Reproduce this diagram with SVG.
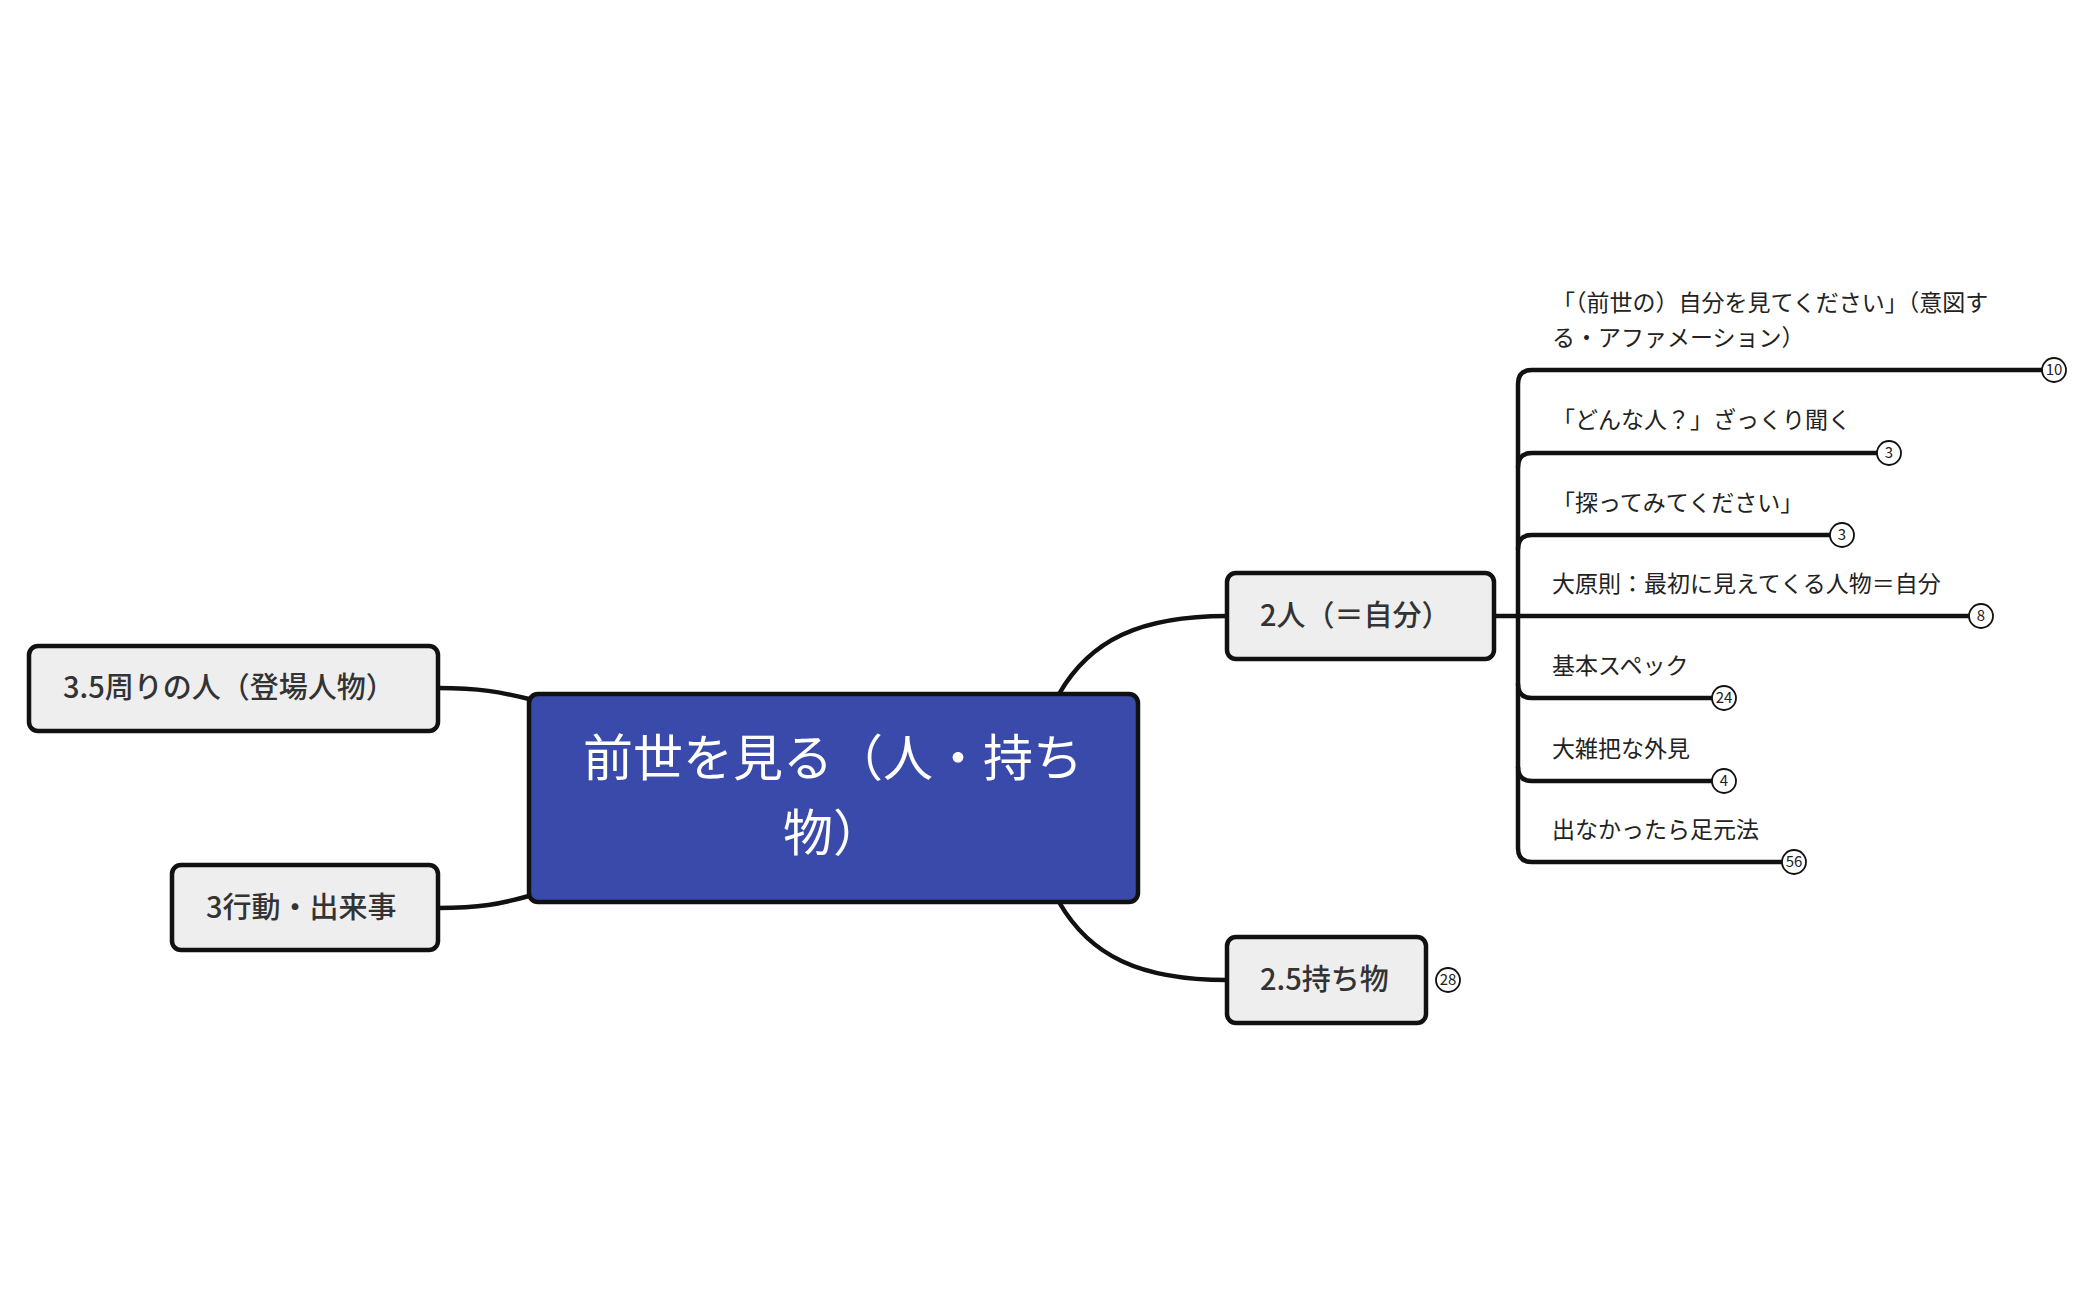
<svg xmlns="http://www.w3.org/2000/svg" width="2096" height="1300" viewBox="0 0 2096 1300">
<style>
text{font-family:"Noto Sans CJK JP","Noto Sans",sans-serif}
.box{fill:#eeeeee;stroke:#111;stroke-width:4.5}
.lbl{font-size:29px;fill:#333;font-weight:500}
.c{fill:none;stroke:#111;stroke-width:4.5;stroke-linecap:round}
.t{font-size:23px;fill:#222}
.b{fill:#fff;stroke:#111;stroke-width:1.8}
.bt{font-size:15px;fill:#222;text-anchor:middle}
</style>
<g id="connectors">
<path class="c" d="M1059,694 C1090,640 1140,616 1227,616"/>
<path class="c" d="M1059,902 C1090,956 1140,980 1227,980"/>
<path class="c" d="M438,688 C480,688 500,692 529,699"/>
<path class="c" d="M438,908 C480,908 500,904 529,896"/>
<path class="c" d="M1494,616 H1518"/>
<path class="c" d="M2042,370 H1532 Q1518,370 1518,384 V848 Q1518,862 1532,862 H1782"/>
<path class="c" d="M1877,453 H1532 Q1518,453 1518,467"/>
<path class="c" d="M1830,535 H1532 Q1518,535 1518,549"/>
<path class="c" d="M1518,616 H1969"/>
<path class="c" d="M1518,684 Q1518,698 1532,698 H1712"/>
<path class="c" d="M1518,767 Q1518,781 1532,781 H1712"/>
<circle class="b" cx="1448" cy="980" r="12"/><text class="bt" x="1448" y="985">28</text>
<circle class="b" cx="2054" cy="370" r="12"/><text class="bt" x="2054" y="375">10</text>
<circle class="b" cx="1889" cy="453" r="12"/><text class="bt" x="1889" y="458">3</text>
<circle class="b" cx="1842" cy="535" r="12"/><text class="bt" x="1842" y="540">3</text>
<circle class="b" cx="1981" cy="616" r="12"/><text class="bt" x="1981" y="621">8</text>
<circle class="b" cx="1724" cy="698" r="12"/><text class="bt" x="1724" y="703">24</text>
<circle class="b" cx="1724" cy="781" r="12"/><text class="bt" x="1724" y="786">4</text>
<circle class="b" cx="1794" cy="862" r="12"/><text class="bt" x="1794" y="867">56</text>
</g>
<g id="center">
<rect x="529" y="694" width="609" height="208" rx="9" fill="#3a4aaa" stroke="#111" stroke-width="4.5"/>
<text x="833" y="776" font-size="50" fill="#fff" text-anchor="middle">前世を見る（人・持ち</text>
<text x="833" y="851" font-size="50" fill="#fff" text-anchor="middle">物）</text>
</g>
<g id="n35"><rect class="box" x="29" y="646" width="409" height="85" rx="9"/><text class="lbl" x="63" y="698">3.5周りの人（登場人物）</text></g>
<g id="n3"><rect class="box" x="172" y="865" width="266" height="85" rx="9"/><text class="lbl" x="206" y="918">3行動・出来事</text></g>
<g id="n2"><rect class="box" x="1227" y="573" width="267" height="86" rx="9"/><text class="lbl" x="1260" y="626">2人（＝自分）</text></g>
<g id="n25"><rect class="box" x="1227" y="937" width="199" height="86" rx="9"/><text class="lbl" x="1260" y="990">2.5持ち物</text></g>
<g id="c1"><text class="t" x="1552" y="311">「（前世の）自分を見てください」（意図す</text><text class="t" x="1552" y="346">る・アファメーション）</text></g>
<g id="c2"><text class="t" x="1552" y="428">「どんな人？」ざっくり聞く</text></g>
<g id="c3"><text class="t" x="1552" y="511">「探ってみてください」</text></g>
<g id="c4"><text class="t" x="1552" y="592">大原則：最初に見えてくる人物＝自分</text></g>
<g id="c5"><text class="t" x="1552" y="674">基本スペック</text></g>
<g id="c6"><text class="t" x="1552" y="757">大雑把な外見</text></g>
<g id="c7"><text class="t" x="1552" y="838">出なかったら足元法</text></g>
</svg>
